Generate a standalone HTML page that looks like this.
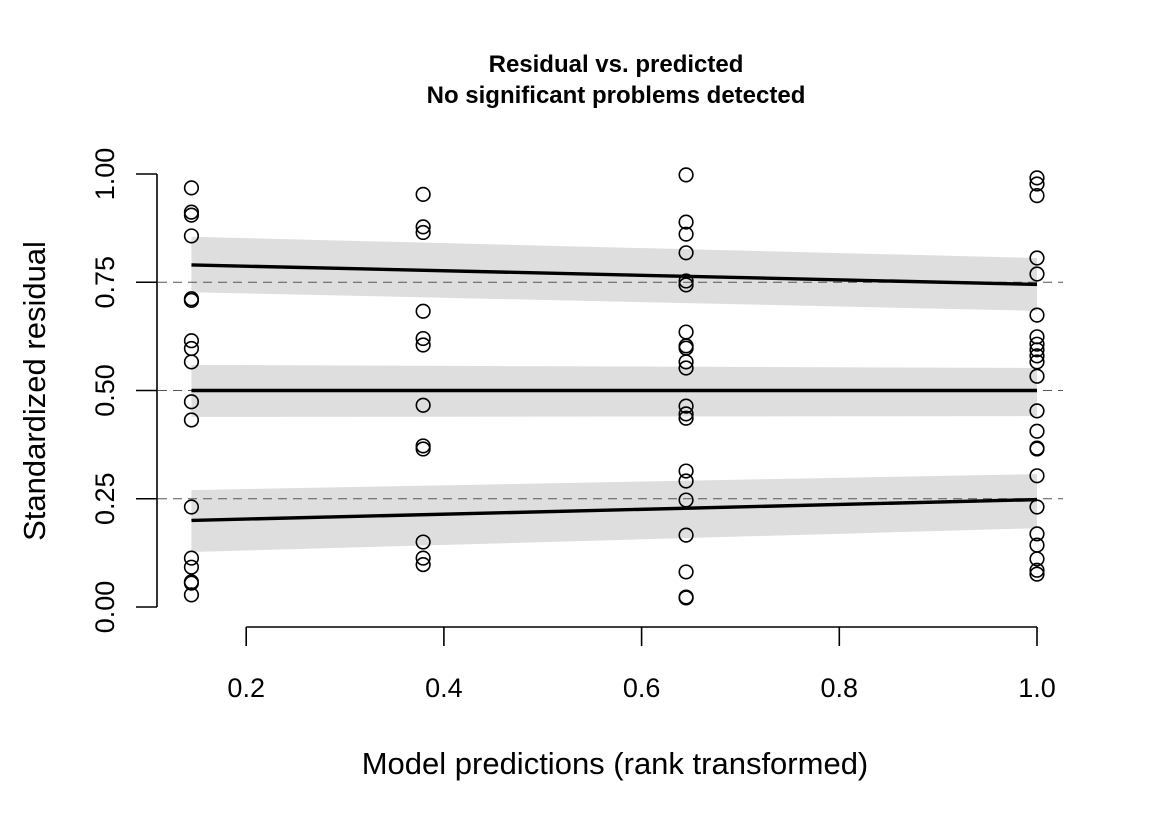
<!DOCTYPE html>
<html><head><meta charset="utf-8"><style>
body{margin:0;background:#fff}
svg{display:block;font-family:"Liberation Sans",Arial,sans-serif}
</style></head><body>
<svg id="chart" width="1152" height="822" viewBox="0 0 1152 822">
<g>
<text x="616" y="72" text-anchor="middle" font-size="24" font-weight="bold">Residual vs. predicted</text>
<text x="616" y="103" text-anchor="middle" font-size="24" font-weight="bold">No significant problems detected</text>
</g>
<g id="bands"></g>
<g id="refs"></g>
<g id="qlines"></g>
<g id="points"></g>
<g id="axes"></g>
<text x="615" y="774" text-anchor="middle" font-size="31">Model predictions (rank transformed)</text>
<text transform="translate(45,391) rotate(-90)" text-anchor="middle" font-size="31">Standardized residual</text>
</svg>
<script>
const xCols = [0.1446, 0.379, 0.645, 1.0];
const col1 = [0.968,0.912,0.905,0.857,0.712,0.708,0.615,0.597,0.566,0.474,0.432,0.231,0.113,0.092,0.058,0.055,0.028];
const col2 = [0.953,0.878,0.865,0.683,0.62,0.605,0.466,0.372,0.365,0.15,0.113,0.098];
const col3 = [0.998,0.889,0.861,0.818,0.753,0.744,0.635,0.603,0.598,0.566,0.552,0.464,0.446,0.436,0.314,0.291,0.247,0.166,0.081,0.023,0.021];
const col4 = [0.991,0.977,0.95,0.806,0.769,0.674,0.624,0.607,0.594,0.58,0.566,0.533,0.453,0.406,0.367,0.365,0.303,0.231,0.169,0.143,0.111,0.085,0.076];
const qLevels = [0.25, 0.5, 0.75];
const qLineStart = [0.2, 0.5, 0.79];
const qLineEnd = [0.248, 0.5, 0.745];
const bandTopStart = [0.27, 0.559, 0.855];
const bandTopEnd = [0.307, 0.552, 0.806];
const bandBotStart = [0.127, 0.439, 0.727];
const bandBotEnd = [0.182, 0.441, 0.684];
const xTicks = [0.2, 0.4, 0.6, 0.8, 1.0];
const xTickLabels = ["0.2","0.4","0.6","0.8","1.0"];
const yTicks = [0, 0.25, 0.5, 0.75, 1.0];
const yTickLabels = ["0.00","0.25","0.50","0.75","1.00"];

const NS="http://www.w3.org/2000/svg";
const X = v => 48.5 + v*988.5;
const Y = v => 607 - v*433;
function mk(tag, attrs, parent){const e=document.createElementNS(NS,tag);for(const k in attrs)e.setAttribute(k,attrs[k]);parent.appendChild(e);return e;}
const gB=document.getElementById('bands'),gR=document.getElementById('refs'),gQ=document.getElementById('qlines'),gP=document.getElementById('points'),gA=document.getElementById('axes');
const x0=xCols[0], x1=xCols[xCols.length-1];
for(let i=0;i<qLevels.length;i++){
  const p=mk('polygon',{points:`${X(x0)},${Y(bandTopStart[i])} ${X(x1)},${Y(bandTopEnd[i])} ${X(x1)},${Y(bandBotEnd[i])} ${X(x0)},${Y(bandBotStart[i])}`,fill:'#dedede'},gB);
  
  
  const r=mk('line',{x1:158,x2:1063,y1:Y(qLevels[i]),y2:Y(qLevels[i]),stroke:'#555','stroke-width':1,'stroke-dasharray':'9,6'},gR);
  
  
  const l=mk('line',{x1:X(x0),x2:X(x1),y1:Y(qLineStart[i]),y2:Y(qLineEnd[i]),stroke:'#000','stroke-width':3.4},gQ);
  
  
}
[col1,col2,col3,col4].forEach((col,ci)=>{col.forEach(v=>{
  const c=mk('circle',{cx:X(xCols[ci]),cy:Y(v),r:6.8,fill:'none',stroke:'#000','stroke-width':1.6},gP);
  
  
});});
const ya=mk('line',{x1:157,x2:157,y1:Y(1),y2:Y(0),stroke:'#000','stroke-width':1.6},gA);


yTicks.forEach((t,i)=>{
  const tk=mk('line',{x1:136,x2:157,y1:Y(t),y2:Y(t),stroke:'#000','stroke-width':1.6},gA);
  
  
  const tx=mk('text',{transform:`translate(114,${Y(t)}) rotate(-90)`,'text-anchor':'middle','font-size':27},gA);
  tx.textContent=yTickLabels[i];
  
  
});
const xa=mk('line',{x1:X(xTicks[0]),x2:X(xTicks[xTicks.length-1]),y1:627,y2:627,stroke:'#000','stroke-width':1.6},gA);


xTicks.forEach((t,i)=>{
  const tk=mk('line',{x1:X(t),x2:X(t),y1:627,y2:646,stroke:'#000','stroke-width':1.6},gA);
  
  
  const tx=mk('text',{x:X(t),y:697,'text-anchor':'middle','font-size':27},gA);
  tx.textContent=xTickLabels[i];
  
  
});
</script>
</body></html>
